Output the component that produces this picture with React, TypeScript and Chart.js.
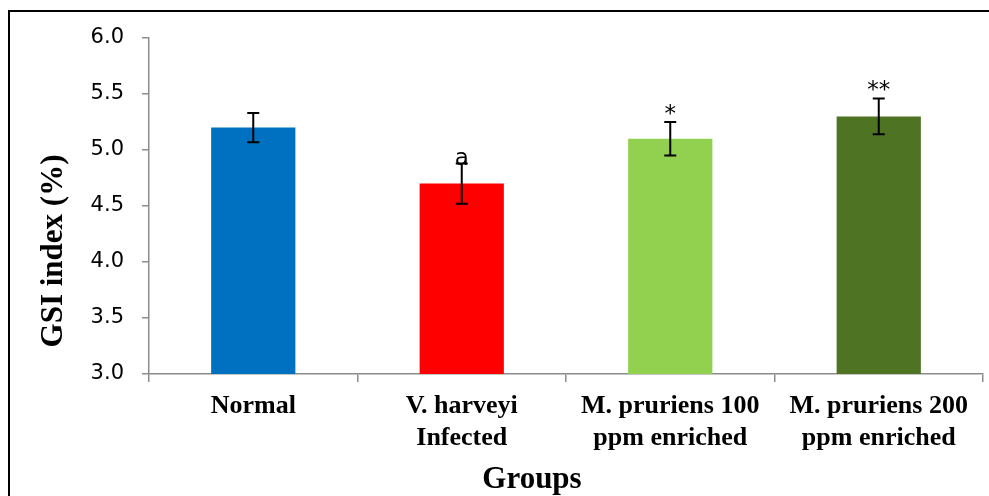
import React, { useEffect, useRef } from 'react';
import { Chart, registerables } from 'chart.js';

Chart.register(...registerables);

const categories: string[][] = [
  ['Normal'],
  ['V. harveyi', 'Infected'],
  ['M. pruriens 100', 'ppm enriched'],
  ['M. pruriens 200', 'ppm enriched'],
];
const gsiValues: number[] = [5.2, 4.7, 5.1, 5.3];
const gsiErrors: number[] = [0.13, 0.18, 0.15, 0.16];
const significance: string[] = ['', 'a', '*', '**'];
const barColors: string[] = ['#0070C0', '#FF0000', '#92D050', '#4E7423'];
const yMin = 3.0;
const yMax = 6.0;
const yStep = 0.5;
const yTitle = 'GSI index (%)';
const xTitle = 'Groups';

const AXIS_COLOR = '#8c8c8c';

const errorBarPlugin = {
  id: 'errorBars',
  afterDatasetsDraw(chart: any) {
    const ctx = chart.ctx;
    const meta = chart.getDatasetMeta(0);
    const yScale = chart.scales.y;
    ctx.save();
    meta.data.forEach((bar: any, i: number) => {
      const x = bar.x;
      const top = yScale.getPixelForValue(gsiValues[i] + gsiErrors[i]);
      const bottom = yScale.getPixelForValue(gsiValues[i] - gsiErrors[i]);
      ctx.strokeStyle = '#000';
      ctx.lineWidth = 2;
      ctx.beginPath();
      ctx.moveTo(x, top);
      ctx.lineTo(x, bottom);
      ctx.moveTo(x - 6, top);
      ctx.lineTo(x + 6, top);
      ctx.moveTo(x - 6, bottom);
      ctx.lineTo(x + 6, bottom);
      ctx.stroke();
      const label = significance[i];
      if (label) {
        ctx.fillStyle = '#000';
        ctx.font = '23px "DejaVu Sans"';
        ctx.textAlign = 'center';
        ctx.textBaseline = 'alphabetic';
        const off = label === 'a' ? 2 : -1;
        ctx.fillText(label, x, top + off);
      }
    });
    ctx.restore();
  },
};

const titlesPlugin = {
  id: 'axisTitles',
  afterDraw(chart: any) {
    const ctx = chart.ctx;
    const area = chart.chartArea;
    ctx.save();
    ctx.fillStyle = '#000';
    ctx.font = 'bold 31px "Liberation Serif"';
    ctx.textAlign = 'center';
    ctx.textBaseline = 'alphabetic';
    ctx.fillText(xTitle, area.left + 383, 488);
    ctx.translate(62, (area.top + area.bottom) / 2 + 45);
    ctx.rotate(-Math.PI / 2);
    ctx.fillText(yTitle, 0, 0);
    ctx.restore();
  },
};

export default function App() {
  const canvasRef = useRef<HTMLCanvasElement | null>(null);

  useEffect(() => {
    if (!canvasRef.current) return;
    const chart = new Chart(canvasRef.current, {
      type: 'bar',
      data: {
        labels: categories,
        datasets: [
          {
            data: gsiValues,
            backgroundColor: barColors,
            borderWidth: 0,
            barPercentage: 0.404,
            categoryPercentage: 1,
          },
        ],
      },
      options: {
        animation: false,
        responsive: false,
        devicePixelRatio: 1,
        layout: { padding: { top: 38, right: 6, left: 0, bottom: 0 } },
        plugins: {
          legend: { display: false },
          tooltip: { enabled: false },
          title: { display: false },
        },
        scales: {
          x: {
            afterFit(scale: any) {
              scale.height = 122;
            },
            grid: {
              display: true,
              offset: true,
              drawOnChartArea: false,
              drawTicks: true,
              tickLength: 8,
              color: AXIS_COLOR,
              lineWidth: 1.5,
            },
            border: { display: true, color: AXIS_COLOR, width: 1.5 },
            ticks: {
              color: '#000',
              font: { family: '"Liberation Serif"', size: 26, weight: 'bold' },
              padding: 9,
              maxRotation: 0,
              minRotation: 0,
              autoSkip: false,
            },
          },
          y: {
            min: yMin,
            max: yMax,
            afterFit(scale: any) {
              scale.width = 149;
            },
            grid: {
              display: true,
              drawOnChartArea: false,
              drawTicks: true,
              tickLength: 7,
              color: AXIS_COLOR,
              lineWidth: 1.5,
            },
            border: { display: true, color: AXIS_COLOR, width: 1.5 },
            ticks: {
              stepSize: yStep,
              color: '#000',
              font: { family: '"DejaVu Sans"', size: 21 },
              padding: 18,
              callback: (v: any) => Number(v).toFixed(1),
            },
          },
        },
      },
      plugins: [errorBarPlugin, titlesPlugin],
    });
    return () => chart.destroy();
  }, []);

  return (
    <div>
      <div
        style={{
          position: 'fixed',
          left: 8,
          top: 10,
          width: 1200,
          height: 800,
          border: '2px solid #000',
          boxSizing: 'border-box',
        }}
      />
      <canvas
        ref={canvasRef}
        width={989}
        height={496}
        style={{ position: 'fixed', left: 0, top: 0, width: 989, height: 496 }}
      />
    </div>
  );
}
